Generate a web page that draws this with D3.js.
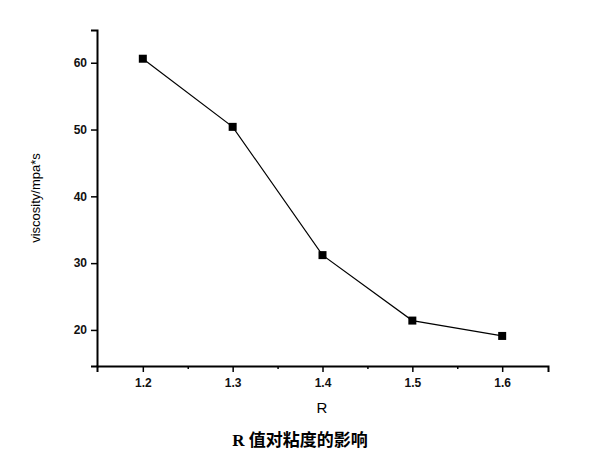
<!DOCTYPE html>
<html><head><meta charset="utf-8">
<script src="https://cdn.jsdelivr.net/npm/d3@7"></script>
<style>body{margin:0;background:#fff}</style></head>
<body><svg id="c" width="600" height="467"></svg>
<script>
const rValues = [1.2, 1.3, 1.4, 1.5, 1.6];
const viscosity = [60.6, 50.4, 31.2, 21.4, 19.1];
const xTicks = [1.2, 1.3, 1.4, 1.5, 1.6];
const xMinor = [1.25, 1.35, 1.45, 1.55];
const yTicks = [20, 30, 40, 50, 60];

const svg = d3.select("#c");
const x = d3.scaleLinear().domain([1.149, 1.651]).range([97, 548]);
const y = d3.scaleLinear().domain([14.6, 64.9]).range([366, 30]);
const font = "Arial, 'Liberation Sans', sans-serif";

const xa = svg.append("g").attr("transform", "translate(0,366)")
  .call(d3.axisBottom(x).tickValues(xTicks).tickFormat(d3.format(".1f")).tickSizeOuter(0).tickSize(6).tickPadding(6));
svg.append("g").attr("transform", "translate(0,366)")
  .call(d3.axisBottom(x).tickValues(xMinor).tickFormat("").tickSizeOuter(0).tickSize(3))
  .select(".domain").remove();
const ya = svg.append("g").attr("transform", "translate(97,0)")
  .call(d3.axisLeft(y).tickValues(yTicks).tickSizeOuter(0).tickSize(6).tickPadding(4));
svg.selectAll(".domain").attr("stroke-width", 2).attr("stroke", "#000");
svg.selectAll(".tick line").attr("stroke-width", 1.5);
svg.selectAll(".tick text").attr("font-family", font).attr("font-size", 12).attr("font-weight", "bold").attr("fill", "#111");

const line = d3.line().x((d, i) => x(rValues[i])).y(d => y(d));
svg.append("path").datum(viscosity).attr("d", line).attr("fill", "none").attr("stroke", "#000").attr("stroke-width", 1.2);
svg.selectAll("rect.pt").data(viscosity).enter().append("rect")
  .attr("x", (d, i) => x(rValues[i]) - 4).attr("y", d => y(d) - 4)
  .attr("width", 8).attr("height", 8).attr("fill", "#000");

svg.append("text").attr("x", 322).attr("y", 413).attr("text-anchor", "middle")
  .attr("font-family", font).attr("font-size", 15).text("R");
svg.append("text").attr("transform", "translate(40,198) rotate(-90)").attr("text-anchor", "middle")
  .attr("font-family", font).attr("font-size", 13).text("viscosity/mpa*s");
svg.append("text").attr("x", 300).attr("y", 446).attr("text-anchor", "middle")
  .attr("font-family", "'Liberation Serif', 'Noto Sans CJK SC', serif").attr("font-size", 17).attr("font-weight", "bold").text("R 值对粘度的影响");
</script></body></html>
